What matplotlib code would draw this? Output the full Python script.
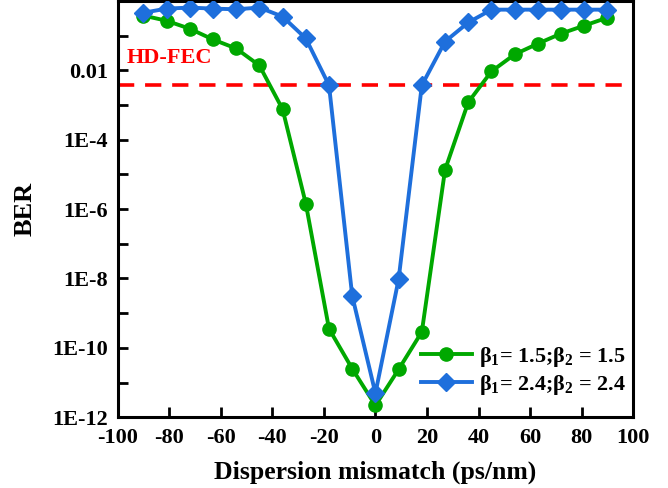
import numpy as np
import matplotlib
matplotlib.use("Agg")
import matplotlib.pyplot as plt
from matplotlib.ticker import FixedLocator, FixedFormatter

plt.rcParams['font.family'] = ['Liberation Serif', 'DejaVu Serif']
plt.rcParams['font.weight'] = 'bold'
plt.rcParams['mathtext.fontset'] = 'custom'
plt.rcParams['mathtext.rm'] = 'Liberation Serif:bold'
plt.rcParams['mathtext.bf'] = 'Liberation Serif:bold'
plt.rcParams['mathtext.default'] = 'bf'

# Dispersion mismatch (ps/nm)
mismatch = [-90, -81, -72, -63, -54, -45, -36, -27, -18, -9, 0,
            9, 18, 27, 36, 45, 54, 63, 72, 81, 90]

# log10(BER) for each launch condition
log_ber_15 = [-0.42, -0.57, -0.80, -1.11, -1.37, -1.86, -3.12, -5.84, -9.45, -10.60, -11.66,
              -10.62, -9.54, -4.87, -2.92, -2.03, -1.54, -1.23, -0.94, -0.71, -0.48]
log_ber_24 = [-0.34, -0.22, -0.19, -0.22, -0.24, -0.19, -0.45, -1.08, -2.43, -8.50, -11.31,
              -8.02, -2.43, -1.17, -0.62, -0.25, -0.25, -0.25, -0.25, -0.25, -0.25]

ber_15 = [10 ** v for v in log_ber_15]
ber_24 = [10 ** v for v in log_ber_24]

hd_fec = 3.8e-3

series_labels = [r"β$_1$= 1.5;β$_2$ = 1.5", r"β$_1$= 2.4;β$_2$ = 2.4"]
x_ticks = [-100, -80, -60, -40, -20, 0, 20, 40, 60, 80, 100]
y_major = [1e-12, 1e-10, 1e-8, 1e-6, 1e-4, 1e-2]
y_labels = ["1E-12", "1E-10", "1E-8", "1E-6", "1E-4", "0.01"]
y_minor = [1e-11, 1e-9, 1e-7, 1e-5, 1e-3, 1e-1]

fig = plt.figure(figsize=(6.68, 4.88), dpi=100)
ax = fig.add_axes([0.176, 0.145, 0.772, 0.853])

green = '#00A800'
blue = '#1E6FDC'

ax.axhline(hd_fec, color='#FF0000', lw=2.6, ls=(0, (4.5, 3)), zorder=1)
ax.plot(mismatch, ber_15, color=green, lw=2.8, marker='o', ms=9.5,
        label=series_labels[0], zorder=3)
ax.plot(mismatch, ber_24, color=blue, lw=2.8, marker='D', ms=9,
        label=series_labels[1], zorder=4)

ax.set_yscale('log')
ax.set_xlim(-100, 100)
ax.set_ylim(1e-12, 1)

ax.xaxis.set_major_locator(FixedLocator(x_ticks))
ax.set_xticklabels([str(t) for t in x_ticks])
ax.yaxis.set_major_locator(FixedLocator(y_major))
ax.yaxis.set_major_formatter(FixedFormatter(y_labels))
ax.yaxis.set_minor_locator(FixedLocator(y_minor))
ax.yaxis.set_minor_formatter(FixedFormatter([""] * len(y_minor)))

ax.tick_params(axis='both', which='both', direction='in', length=7, width=2,
               labelsize=16, top=False, right=False)
ax.tick_params(axis='x', pad=8)
ax.tick_params(axis='y', pad=7)
for lab in ax.get_xticklabels() + ax.get_yticklabels():
    lab.set_fontweight('bold')
for sp in ax.spines.values():
    sp.set_linewidth(2.2)

ax.set_xlabel('Dispersion mismatch (ps/nm)', fontsize=18.5, fontweight='bold', labelpad=9)
ax.set_ylabel('BER', fontsize=19, fontweight='bold', labelpad=11)

ax.text(-96.5, 2.2e-2, 'HD-FEC', color='#FF0000', fontsize=16, fontweight='bold',
        ha='left', va='center')

leg = ax.legend(loc='lower right', frameon=False, handlelength=2.3,
                handletextpad=0.3, labelspacing=0.15, borderaxespad=0.25,
                bbox_to_anchor=(1.013, 0.015),
                prop={'size': 16, 'weight': 'bold'})

fig.savefig('out.png', dpi=100)
